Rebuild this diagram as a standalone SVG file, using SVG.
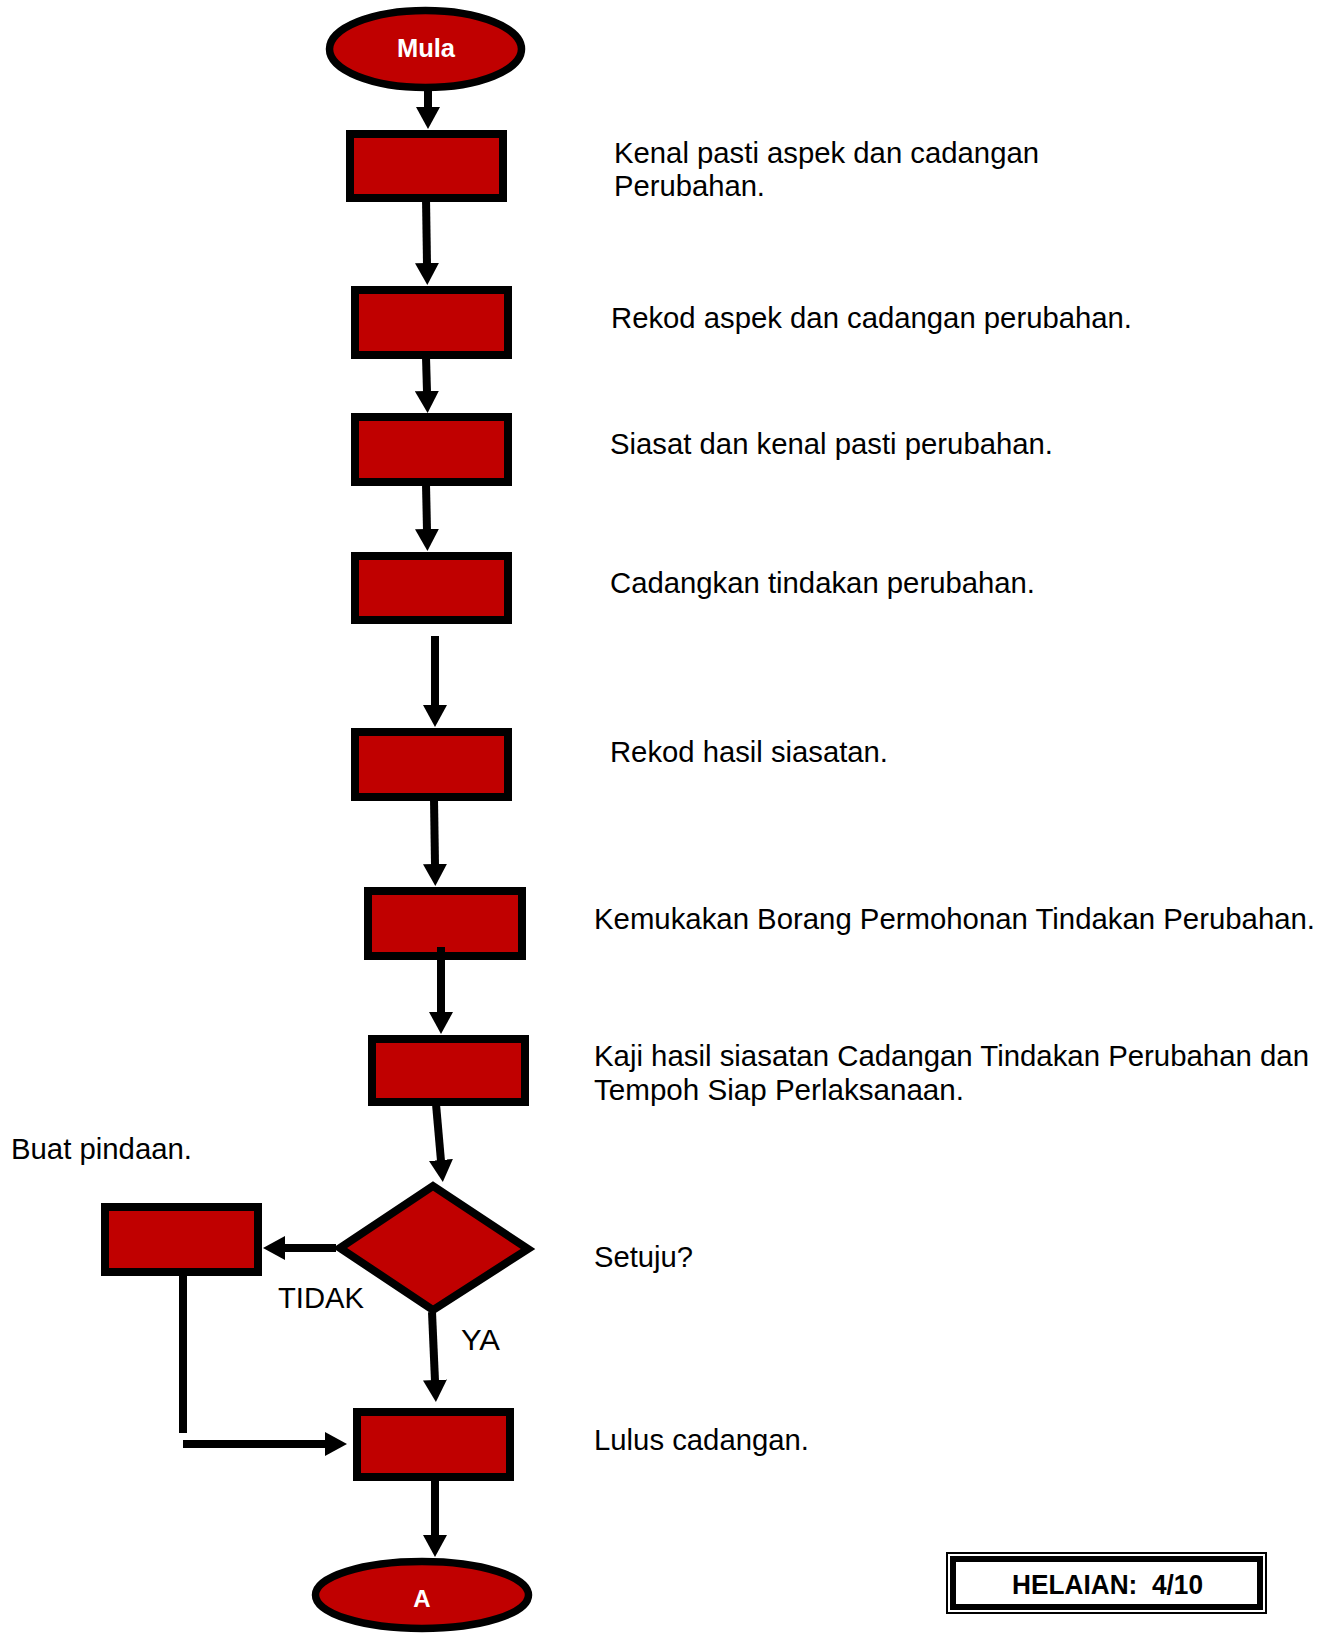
<svg xmlns="http://www.w3.org/2000/svg" width="1330" height="1634" viewBox="0 0 1330 1634">
  <style>
    .box { fill: #C00000; stroke: #000; stroke-width: 8; }
    .term { fill: #C00000; stroke: #000; stroke-width: 7.5; }
    .lbl { font-family: "Liberation Sans", Arial, sans-serif; font-size: 29px; fill: #000; }
    .tl { font-family: "Liberation Sans", Arial, sans-serif; font-weight: bold; fill: #fff; text-anchor: middle; }
    .conn { stroke: #000; stroke-width: 8; fill: none; }
    .arr { marker-end: url(#ah); }
  </style>
  <defs>
    <marker id="ah" viewBox="0 0 22 24" refX="1" refY="12" markerWidth="22" markerHeight="24" markerUnits="userSpaceOnUse" orient="auto">
      <path d="M0,0 L22,12 L0,24 z" fill="#000"/>
    </marker>
  </defs>
  <rect width="1330" height="1634" fill="#fff"/>

  <g id="nodes">
    <g id="n-mula">
      <ellipse class="term" cx="425.5" cy="49" rx="96" ry="38.5"/>
      <text class="tl" x="426" y="57" font-size="25.5">Mula</text>
    </g>
    <g id="n1"><rect class="box" x="350" y="134" width="153" height="64"/></g>
    <g id="n2"><rect class="box" x="355" y="290" width="153" height="65"/></g>
    <g id="n3"><rect class="box" x="355" y="417" width="153" height="65"/></g>
    <g id="n4"><rect class="box" x="355" y="556" width="153" height="64"/></g>
    <g id="n5"><rect class="box" x="355" y="732" width="153" height="65"/></g>
    <g id="n6"><rect class="box" x="368" y="891" width="154" height="65"/></g>
    <g id="n7"><rect class="box" x="372" y="1039" width="153" height="63"/></g>
    <g id="n-setuju"><path class="box" d="M433,1186 L528,1249 L433,1310 L340,1248 Z" stroke-linejoin="miter"/></g>
    <g id="n-pindaan"><rect class="box" x="105" y="1207" width="153" height="65"/></g>
    <g id="n-lulus"><rect class="box" x="357" y="1412" width="153" height="65"/></g>
    <g id="n-a">
      <ellipse class="term" cx="422" cy="1595" rx="106.5" ry="33.5"/>
      <text class="tl" x="422" y="1607" font-size="24">A</text>
    </g>
  </g>

  <g id="connectors">
    <line class="conn arr" x1="428" y1="86" x2="428" y2="108"/>
    <line class="conn arr" x1="426" y1="198" x2="427" y2="264"/>
    <line class="conn arr" x1="426" y1="357" x2="427" y2="392"/>
    <line class="conn arr" x1="426" y1="484" x2="427" y2="530"/>
    <line class="conn arr" x1="435" y1="636" x2="435" y2="706"/>
    <line class="conn arr" x1="434" y1="799" x2="435" y2="865"/>
    <line class="conn arr" x1="441" y1="947" x2="441" y2="1013"/>
    <line class="conn arr" x1="436" y1="1104" x2="441" y2="1161"/>
    <line class="conn arr" x1="336" y1="1248" x2="284" y2="1248"/>
    <line class="conn arr" x1="432" y1="1312" x2="435" y2="1381"/>
    <line class="conn" x1="183" y1="1276" x2="183" y2="1433"/>
    <line class="conn arr" x1="183" y1="1444" x2="326" y2="1444"/>
    <line class="conn arr" x1="435" y1="1481" x2="435" y2="1536"/>
  </g>

  <g id="labels">
    <text class="lbl" x="614" y="163" textLength="425" lengthAdjust="spacingAndGlyphs">Kenal pasti aspek dan cadangan</text>
    <text class="lbl" x="614" y="196" textLength="151" lengthAdjust="spacingAndGlyphs">Perubahan.</text>
    <text class="lbl" x="611" y="328" textLength="521" lengthAdjust="spacingAndGlyphs">Rekod aspek dan cadangan perubahan.</text>
    <text class="lbl" x="610" y="454" textLength="443" lengthAdjust="spacingAndGlyphs">Siasat dan kenal pasti perubahan.</text>
    <text class="lbl" x="610" y="593" textLength="425" lengthAdjust="spacingAndGlyphs">Cadangkan tindakan perubahan.</text>
    <text class="lbl" x="610" y="762" textLength="278" lengthAdjust="spacingAndGlyphs">Rekod hasil siasatan.</text>
    <text class="lbl" x="594" y="929" textLength="721" lengthAdjust="spacingAndGlyphs">Kemukakan Borang Permohonan Tindakan Perubahan.</text>
    <text class="lbl" x="594" y="1066" textLength="715" lengthAdjust="spacingAndGlyphs">Kaji hasil siasatan Cadangan Tindakan Perubahan dan</text>
    <text class="lbl" x="594" y="1100" textLength="370" lengthAdjust="spacingAndGlyphs">Tempoh Siap Perlaksanaan.</text>
    <text class="lbl" x="11" y="1159" textLength="181" lengthAdjust="spacingAndGlyphs">Buat pindaan.</text>
    <text class="lbl" x="594" y="1267" textLength="99" lengthAdjust="spacingAndGlyphs">Setuju?</text>
    <text class="lbl" x="278" y="1308" textLength="86" lengthAdjust="spacingAndGlyphs">TIDAK</text>
    <text class="lbl" x="461" y="1350" textLength="39" lengthAdjust="spacingAndGlyphs">YA</text>
    <text class="lbl" x="594" y="1450" textLength="215" lengthAdjust="spacingAndGlyphs">Lulus cadangan.</text>
  </g>

  <g id="helaian">
    <rect x="947" y="1553" width="319" height="60" fill="#fff" stroke="#000" stroke-width="2"/>
    <rect x="953" y="1559" width="307" height="48" fill="none" stroke="#000" stroke-width="6"/>
    <text x="1012" y="1594" font-family="Liberation Sans, Arial, sans-serif" font-weight="bold" font-size="27" fill="#000" textLength="191" lengthAdjust="spacingAndGlyphs">HELAIAN:&#160; 4/10</text>
  </g>
</svg>
